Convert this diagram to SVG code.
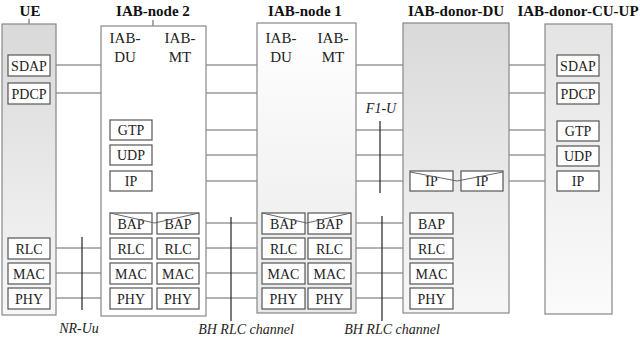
<svg xmlns="http://www.w3.org/2000/svg" width="640" height="337" viewBox="0 0 640 337" font-family="'Liberation Serif', 'DejaVu Serif', 'Times New Roman', serif">
<defs>
<linearGradient id="gGrey" x1="0" y1="0" x2="0" y2="1">
<stop offset="0" stop-color="#d9d9d9"/><stop offset="1" stop-color="#f7f7f7"/>
</linearGradient>
<linearGradient id="gLight" x1="0" y1="0" x2="0" y2="1">
<stop offset="0" stop-color="#ffffff"/><stop offset="1" stop-color="#e9e9e9"/>
</linearGradient>
<linearGradient id="gCU" x1="0" y1="0" x2="0" y2="1">
<stop offset="0" stop-color="#e4e4e4"/><stop offset="1" stop-color="#fbfbfb"/>
</linearGradient>
<style>
text{font-family:'Liberation Serif','DejaVu Serif','Times New Roman',serif}
.hdr{font-weight:bold;font-size:15px;fill:#111;text-anchor:middle}
.sub{font-size:15px;fill:#222;text-anchor:middle}
.lbl{font-size:14px;fill:#222;text-anchor:middle}
.it{font-style:italic;font-size:14px;fill:#222;text-anchor:middle}
.ent{stroke:#888;stroke-width:1.2}
.pb{fill:#fff;stroke:#555;stroke-width:1.2}
.ln{stroke:#666;stroke-width:1;fill:none}
.vl{stroke:#222;stroke-width:1.2}
.tk{stroke:#555;stroke-width:1}
</style>
</defs>

<g id="connectors">
<line class="ln" x1="50" y1="65" x2="557" y2="65"/>
<line class="ln" x1="50" y1="93" x2="557" y2="93"/>
<line class="ln" x1="152" y1="130" x2="557" y2="130"/>
<line class="ln" x1="152" y1="155" x2="557" y2="155"/>
<line class="ln" x1="152" y1="181" x2="410" y2="181"/>
<line class="ln" x1="503" y1="181" x2="557" y2="181"/>
<line class="ln" x1="50" y1="248" x2="110" y2="248"/>
<line class="ln" x1="50" y1="273" x2="110" y2="273"/>
<line class="ln" x1="50" y1="298" x2="110" y2="298"/>
<line class="ln" x1="199" y1="223" x2="262" y2="223"/>
<line class="ln" x1="199" y1="248" x2="262" y2="248"/>
<line class="ln" x1="199" y1="273" x2="262" y2="273"/>
<line class="ln" x1="199" y1="298" x2="262" y2="298"/>
<line class="ln" x1="351" y1="223" x2="410" y2="223"/>
<line class="ln" x1="351" y1="248" x2="410" y2="248"/>
<line class="ln" x1="351" y1="273" x2="410" y2="273"/>
<line class="ln" x1="351" y1="298" x2="410" y2="298"/>
</g>

<g id="UE">
<text class="hdr" x="30" y="16">UE</text>
<line class="tk" x1="29" y1="19" x2="29" y2="24"/>
<rect class="ent" x="2" y="24" width="54" height="291" fill="url(#gGrey)"/>
<rect class="pb" x="8" y="55" width="42" height="21"/><text class="lbl" x="29" y="70.5">SDAP</text>
<rect class="pb" x="8" y="83" width="42" height="21"/><text class="lbl" x="29" y="98.5">PDCP</text>
<rect class="pb" x="8" y="238" width="42" height="21"/><text class="lbl" x="29" y="253.5">RLC</text>
<rect class="pb" x="8" y="263" width="42" height="21"/><text class="lbl" x="29" y="278.5">MAC</text>
<rect class="pb" x="8" y="288" width="42" height="21"/><text class="lbl" x="29" y="303.5">PHY</text>
</g>

<g id="IAB-node-2">
<text class="hdr" x="153" y="16">IAB-node 2</text>
<line class="tk" x1="153" y1="20" x2="153" y2="26"/>
<rect class="ent" x="101" y="26" width="105" height="290" fill="#fff"/>
<text class="sub" x="125" y="43">IAB-</text><text class="sub" x="125" y="62">DU</text>
<text class="sub" x="180" y="43">IAB-</text><text class="sub" x="180" y="62">MT</text>
<rect class="pb" x="110" y="120" width="42" height="20"/><text class="lbl" x="131" y="135">GTP</text>
<rect class="pb" x="110" y="145" width="42" height="20"/><text class="lbl" x="131" y="160">UDP</text>
<rect class="pb" x="110" y="171" width="42" height="20"/><text class="lbl" x="131" y="186">IP</text>
<rect class="pb" x="110" y="213" width="42" height="21"/><text class="lbl" x="131" y="228.5">BAP</text>
<rect class="pb" x="157" y="213" width="42" height="21"/><text class="lbl" x="178" y="228.5">BAP</text>
<polyline class="ln" points="110,213 154.5,223 199,213"/>
<rect class="pb" x="110" y="238" width="42" height="21"/><text class="lbl" x="131" y="253.5">RLC</text>
<rect class="pb" x="157" y="238" width="42" height="21"/><text class="lbl" x="178" y="253.5">RLC</text>
<rect class="pb" x="110" y="263" width="42" height="21"/><text class="lbl" x="131" y="278.5">MAC</text>
<rect class="pb" x="157" y="263" width="42" height="21"/><text class="lbl" x="178" y="278.5">MAC</text>
<rect class="pb" x="110" y="288" width="42" height="21"/><text class="lbl" x="131" y="303.5">PHY</text>
<rect class="pb" x="157" y="288" width="42" height="21"/><text class="lbl" x="178" y="303.5">PHY</text>
</g>

<g id="IAB-node-1">
<text class="hdr" x="305" y="16">IAB-node 1</text>
<rect class="ent" x="257" y="23" width="99" height="290" fill="url(#gLight)"/>
<text class="sub" x="281" y="43">IAB-</text><text class="sub" x="281" y="62">DU</text>
<text class="sub" x="333" y="43">IAB-</text><text class="sub" x="333" y="62">MT</text>
<rect class="pb" x="262" y="213" width="43" height="21"/><text class="lbl" x="283.5" y="228.5">BAP</text>
<rect class="pb" x="308" y="213" width="43" height="21"/><text class="lbl" x="329.5" y="228.5">BAP</text>
<polyline class="ln" points="262,213 306.5,223 351,213"/>
<rect class="pb" x="262" y="238" width="43" height="21"/><text class="lbl" x="283.5" y="253.5">RLC</text>
<rect class="pb" x="308" y="238" width="43" height="21"/><text class="lbl" x="329.5" y="253.5">RLC</text>
<rect class="pb" x="262" y="263" width="43" height="21"/><text class="lbl" x="283.5" y="278.5">MAC</text>
<rect class="pb" x="308" y="263" width="43" height="21"/><text class="lbl" x="329.5" y="278.5">MAC</text>
<rect class="pb" x="262" y="288" width="43" height="21"/><text class="lbl" x="283.5" y="303.5">PHY</text>
<rect class="pb" x="308" y="288" width="43" height="21"/><text class="lbl" x="329.5" y="303.5">PHY</text>
</g>

<g id="IAB-donor-DU">
<text class="hdr" x="456" y="16">IAB-donor-DU</text>
<rect class="ent" x="403" y="23" width="106" height="290" fill="url(#gGrey)"/>
<rect class="pb" x="410" y="171" width="43" height="20"/><text class="lbl" x="431.5" y="186">IP</text>
<rect class="pb" x="461" y="171" width="42" height="20"/><text class="lbl" x="482" y="186">IP</text>
<polyline class="ln" points="410,172 457,181 503,172"/>
<rect class="pb" x="410" y="213" width="43" height="21"/><text class="lbl" x="431.5" y="228.5">BAP</text>
<rect class="pb" x="410" y="238" width="43" height="21"/><text class="lbl" x="431.5" y="253.5">RLC</text>
<rect class="pb" x="410" y="263" width="43" height="21"/><text class="lbl" x="431.5" y="278.5">MAC</text>
<rect class="pb" x="410" y="288" width="43" height="21"/><text class="lbl" x="431.5" y="303.5">PHY</text>
</g>

<g id="IAB-donor-CU-UP">
<text class="hdr" x="578" y="16">IAB-donor-CU-UP</text>
<rect class="ent" x="545" y="24" width="67" height="290" fill="url(#gCU)"/>
<rect class="pb" x="557" y="55" width="42" height="21"/><text class="lbl" x="578" y="70.5">SDAP</text>
<rect class="pb" x="557" y="83" width="42" height="21"/><text class="lbl" x="578" y="98.5">PDCP</text>
<rect class="pb" x="557" y="121" width="42" height="20"/><text class="lbl" x="578" y="136">GTP</text>
<rect class="pb" x="557" y="146" width="42" height="20"/><text class="lbl" x="578" y="161">UDP</text>
<rect class="pb" x="557" y="171" width="42" height="20"/><text class="lbl" x="578" y="186">IP</text>
</g>

<g id="interfaces">
<line class="vl" x1="380" y1="121" x2="380" y2="193"/>
<text class="it" x="381" y="113">F1-U</text>
<line class="vl" x1="82" y1="237" x2="82" y2="310"/>
<text class="it" x="79" y="333">NR-Uu</text>
<line class="vl" x1="231" y1="217" x2="231" y2="321"/>
<text class="it" x="246" y="334">BH RLC channel</text>
<line class="vl" x1="382" y1="216" x2="382" y2="321"/>
<text class="it" x="392" y="334">BH RLC channel</text>
</g>
</svg>
